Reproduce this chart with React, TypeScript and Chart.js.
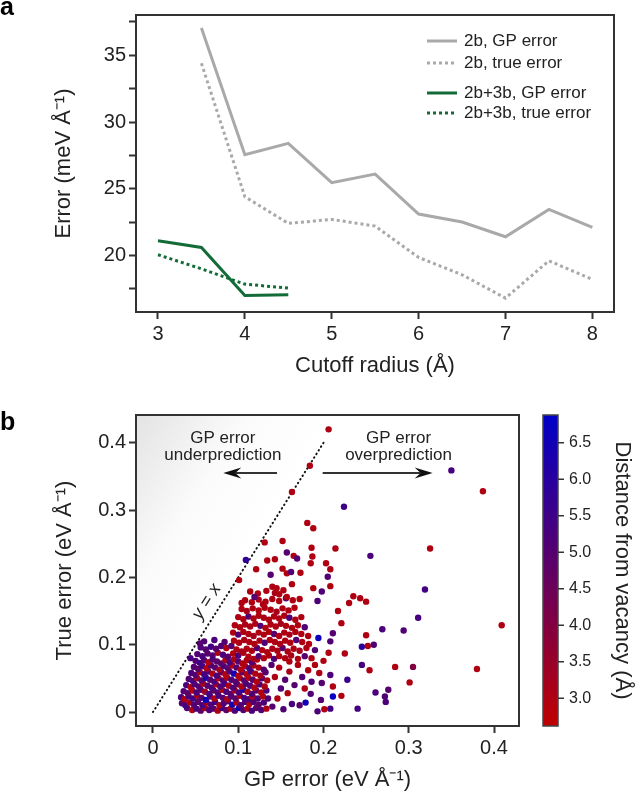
import React, { useEffect, useRef } from 'react';
import { Chart, registerables } from 'chart.js';

Chart.register(...registerables);

const FONT = "'Liberation Sans', Arial, Helvetica, sans-serif";
const TEXT = '#222222';
const AXIS = '#333333';

// ---------------- panel a ----------------
const twoBodyCutoffs = [3.5, 4, 4.5, 5, 5.5, 6, 6.5, 7, 7.5, 8];
const twoBodyGpError = [37.05, 27.55, 28.4, 25.45, 26.1, 23.1, 22.5, 21.4, 23.45, 22.1];
const twoBodyTrueError = [34.4, 24.4, 22.4, 22.7, 22.2, 19.85, 18.55, 16.8, 19.6, 18.2];
const threeBodyCutoffs = [3, 3.5, 4, 4.5];
const threeBodyGpError = [21.1, 20.6, 17.0, 17.05];
const threeBodyTrueError = [20.05, 19.0, 17.85, 17.55];
const cutoffTicks = [3, 4, 5, 6, 7, 8];
const errorTicks = [17.5, 20, 22.5, 25, 27.5, 30, 32.5, 35, 37.5];
const legendLabels = ['2b, GP error', '2b, true error', '2b+3b, GP error', '2b+3b, true error'];

// ---------------- panel b ----------------
// [GP error, true error, distance from vacancy]
type Pt = [number, number, number];
const lowErrorCluster: Pt[] = [
  [0.040,0.006,5.1],[0.046,0.003,3.0],[0.051,0.005,5.3],[0.056,0.002,4.9],[0.061,0.006,3.1],[0.066,0.003,5.2],[0.071,0.005,5.0],[0.076,0.002,3.0],[0.081,0.006,5.5],[0.086,0.003,4.8],[0.091,0.005,3.2],[0.096,0.002,5.1],[0.101,0.006,6.5],[0.106,0.003,5.0],[0.111,0.005,3.0],[0.116,0.002,5.3],[0.121,0.006,4.9],[0.127,0.003,5.1],[0.133,0.005,3.0],
  [0.034,0.013,5.0],[0.038,0.010,5.4],[0.043,0.014,3.0],[0.048,0.011,5.1],[0.053,0.015,4.8],[0.058,0.010,5.3],[0.063,0.014,3.2],[0.068,0.011,5.0],[0.073,0.015,5.5],[0.078,0.010,3.0],[0.083,0.013,5.2],[0.088,0.016,4.9],[0.093,0.011,6.3],[0.098,0.014,3.1],[0.103,0.010,5.0],[0.108,0.015,5.3],[0.113,0.012,3.0],[0.118,0.015,5.1],[0.124,0.011,4.8],[0.130,0.014,5.2],
  [0.033,0.022,5.2],[0.037,0.019,3.1],[0.042,0.023,5.0],[0.047,0.020,5.5],[0.052,0.024,3.0],[0.057,0.021,4.9],[0.062,0.018,6.6],[0.067,0.023,5.1],[0.072,0.020,3.0],[0.077,0.024,5.3],[0.082,0.021,5.0],[0.087,0.019,3.2],[0.092,0.023,5.1],[0.097,0.020,4.8],[0.102,0.024,3.0],[0.107,0.021,5.4],[0.112,0.019,5.0],[0.117,0.023,3.1],[0.123,0.020,5.2],[0.129,0.023,3.0],[0.135,0.020,5.0],
  [0.036,0.031,5.0],[0.041,0.028,4.9],[0.046,0.032,3.0],[0.051,0.029,5.2],[0.056,0.033,5.0],[0.061,0.030,3.3],[0.066,0.027,5.4],[0.071,0.032,4.8],[0.076,0.029,5.1],[0.081,0.033,3.0],[0.086,0.030,5.2],[0.091,0.027,5.0],[0.096,0.032,3.1],[0.101,0.029,5.3],[0.106,0.033,6.4],[0.111,0.030,3.0],[0.116,0.027,5.1],[0.121,0.032,4.9],[0.127,0.029,3.0],[0.133,0.032,5.2],
  [0.039,0.040,5.3],[0.044,0.037,3.0],[0.049,0.041,5.0],[0.054,0.038,5.1],[0.059,0.042,3.0],[0.064,0.039,4.9],[0.069,0.036,5.2],[0.074,0.041,3.2],[0.079,0.038,5.0],[0.084,0.042,5.4],[0.089,0.039,3.0],[0.094,0.036,5.1],[0.099,0.041,4.8],[0.104,0.038,3.0],[0.109,0.042,5.2],[0.114,0.039,5.0],[0.119,0.036,3.1],[0.125,0.041,5.3],[0.131,0.038,3.0],
  [0.042,0.049,5.0],[0.047,0.046,5.3],[0.052,0.050,3.1],[0.057,0.047,5.0],[0.062,0.051,6.2],[0.067,0.048,4.9],[0.072,0.045,5.2],[0.077,0.050,3.0],[0.082,0.047,5.1],[0.087,0.051,3.0],[0.092,0.048,5.3],[0.097,0.045,5.0],[0.102,0.050,3.2],[0.107,0.047,5.1],[0.112,0.051,3.0],[0.117,0.048,4.9],[0.122,0.045,3.0],[0.128,0.050,5.2],[0.134,0.047,3.0],
  [0.045,0.058,5.2],[0.050,0.055,5.0],[0.055,0.059,3.0],[0.060,0.056,5.4],[0.065,0.060,5.0],[0.070,0.057,3.1],[0.075,0.054,5.2],[0.080,0.059,4.8],[0.085,0.056,3.0],[0.090,0.060,5.1],[0.095,0.057,6.5],[0.100,0.054,3.0],[0.105,0.059,5.0],[0.110,0.056,3.0],[0.115,0.060,5.3],[0.120,0.057,3.0],[0.126,0.054,3.2],[0.132,0.059,5.0],
  [0.048,0.067,5.0],[0.053,0.064,4.9],[0.058,0.068,5.3],[0.063,0.065,3.0],[0.068,0.069,5.1],[0.073,0.066,5.0],[0.078,0.063,3.2],[0.083,0.068,5.2],[0.088,0.065,4.9],[0.093,0.069,3.0],[0.098,0.066,5.1],[0.103,0.063,3.0],[0.108,0.068,3.0],[0.113,0.065,5.2],[0.118,0.069,3.0],[0.124,0.066,3.1],[0.130,0.063,5.0],
  [0.050,0.076,5.1],[0.055,0.073,5.4],[0.060,0.077,5.0],[0.065,0.074,3.0],[0.070,0.078,5.2],[0.075,0.075,4.8],[0.080,0.072,5.0],[0.085,0.077,3.0],[0.090,0.074,5.3],[0.095,0.078,3.1],[0.100,0.075,5.0],[0.105,0.072,3.0],[0.110,0.077,3.0],[0.116,0.074,5.1],[0.122,0.078,3.0],
  [0.052,0.086,5.0],[0.058,0.083,5.3],[0.064,0.087,4.9],[0.070,0.084,5.1],[0.076,0.088,3.0],[0.082,0.085,5.2],[0.088,0.082,5.0],[0.094,0.087,3.0],[0.100,0.084,5.2],[0.106,0.088,3.0],
  [0.056,0.096,5.2],[0.062,0.093,5.0],[0.068,0.097,5.4],[0.074,0.094,4.9],[0.080,0.098,5.1],[0.086,0.095,3.0],[0.092,0.098,5.0],
  [0.060,0.105,5.1],[0.072,0.107,5.3],[0.084,0.104,5.0],[0.044,0.080,5.3],[0.055,0.102,5.0],
];
const redCluster: Pt[] = [
  [0.112,0.082,3.0],[0.118,0.079,3.1],[0.124,0.083,5.0],[0.130,0.080,3.0],[0.136,0.084,3.0],[0.142,0.079,5.2],[0.148,0.083,3.0],[0.155,0.080,3.0],[0.162,0.084,3.1],[0.170,0.079,3.0],[0.178,0.083,5.0],[0.186,0.080,3.0],
  [0.098,0.093,3.0],[0.104,0.090,3.2],[0.110,0.094,3.0],[0.116,0.091,3.0],[0.122,0.095,5.1],[0.128,0.092,3.0],[0.134,0.089,3.0],[0.140,0.094,3.1],[0.146,0.091,3.0],[0.152,0.095,5.0],[0.158,0.090,3.0],[0.165,0.094,3.0],[0.172,0.091,3.2],[0.180,0.095,3.0],[0.190,0.092,5.1],
  [0.095,0.106,3.0],[0.101,0.103,3.0],[0.107,0.107,3.1],[0.113,0.104,3.0],[0.119,0.101,3.0],[0.125,0.106,3.0],[0.131,0.103,5.2],[0.137,0.107,3.0],[0.143,0.104,3.0],[0.149,0.101,3.1],[0.155,0.106,3.0],[0.161,0.103,3.0],[0.168,0.107,5.0],[0.175,0.104,3.0],[0.183,0.101,3.0],
  [0.094,0.118,3.0],[0.100,0.115,5.1],[0.106,0.119,3.0],[0.112,0.116,3.0],[0.118,0.113,3.2],[0.124,0.118,3.0],[0.130,0.115,3.0],[0.136,0.119,3.0],[0.142,0.116,5.0],[0.148,0.113,3.0],[0.154,0.118,3.0],[0.160,0.115,3.1],[0.167,0.119,3.0],[0.174,0.116,3.0],[0.182,0.113,3.0],
  [0.096,0.129,3.0],[0.102,0.126,3.0],[0.108,0.130,3.1],[0.114,0.127,3.0],[0.120,0.131,3.0],[0.126,0.128,5.2],[0.132,0.125,3.0],[0.138,0.130,3.0],[0.144,0.127,3.0],[0.150,0.131,3.2],[0.156,0.128,3.0],[0.163,0.125,3.0],[0.170,0.129,3.0],[0.178,0.126,5.1],
  [0.100,0.141,3.0],[0.106,0.138,3.0],[0.112,0.142,5.0],[0.118,0.139,3.0],[0.124,0.143,3.0],[0.130,0.140,3.1],[0.136,0.137,3.0],[0.142,0.142,3.0],[0.148,0.139,3.0],[0.154,0.143,3.0],[0.160,0.140,5.2],[0.167,0.137,3.0],[0.174,0.141,3.0],
  [0.104,0.153,3.0],[0.110,0.150,3.1],[0.117,0.154,3.0],[0.124,0.151,3.0],[0.131,0.155,3.0],[0.138,0.152,3.0],[0.145,0.149,3.2],[0.152,0.154,3.0],[0.159,0.151,3.0],[0.166,0.155,3.0],
  [0.108,0.166,3.0],[0.116,0.163,3.0],[0.124,0.167,3.1],[0.132,0.164,3.0],[0.140,0.168,3.0],[0.148,0.165,3.0],[0.156,0.169,5.0],[0.164,0.166,3.0],
  [0.114,0.179,3.0],[0.123,0.176,3.0],[0.133,0.180,3.0],[0.143,0.177,3.1],[0.153,0.181,3.0],
];
const upperPoints: Pt[] = [
  [0.206,0.420,3.0],[0.184,0.366,3.0],[0.163,0.327,3.0],[0.350,0.359,5.3],[0.387,0.328,3.0],[0.224,0.305,5.5],[0.181,0.281,3.0],[0.188,0.273,3.0],
  [0.131,0.252,3.0],[0.152,0.254,3.0],[0.214,0.243,3.0],[0.325,0.243,3.0],[0.255,0.232,5.2],[0.203,0.221,3.0],[0.109,0.226,5.8],[0.134,0.225,3.0],
  [0.143,0.227,3.0],[0.157,0.237,5.0],[0.165,0.232,3.0],[0.169,0.228,5.0],[0.186,0.244,3.0],[0.187,0.231,3.0],[0.185,0.221,3.0],[0.208,0.212,3.0],
  [0.205,0.201,5.1],[0.208,0.187,3.0],[0.121,0.212,3.0],[0.152,0.213,3.0],[0.157,0.206,3.0],[0.162,0.208,5.0],[0.173,0.207,3.0],[0.138,0.204,5.0],
  [0.101,0.196,3.0],[0.140,0.186,3.0],[0.145,0.184,3.0],[0.163,0.190,3.0],[0.188,0.184,3.0],[0.198,0.179,5.1],[0.148,0.175,3.0],[0.119,0.171,5.0],
  [0.157,0.171,3.0],[0.172,0.168,3.0],[0.193,0.165,5.2],[0.104,0.162,3.0],[0.129,0.160,3.0],
];
const rightPoints: Pt[] = [
  [0.319,0.182,5.4],[0.311,0.140,5.3],[0.294,0.121,5.1],[0.409,0.129,3.0],[0.305,0.067,4.0],[0.301,0.044,3.0],[0.380,0.064,3.0],[0.235,0.172,3.0],
  [0.243,0.169,3.0],[0.250,0.164,3.0],[0.230,0.162,3.0],[0.217,0.150,3.0],[0.221,0.132,3.0],[0.211,0.117,5.0],[0.250,0.114,3.0],[0.269,0.123,5.2],
  [0.194,0.110,6.6],[0.208,0.105,5.1],[0.245,0.097,6.0],[0.252,0.098,3.0],[0.259,0.100,5.1],[0.225,0.087,3.0],[0.206,0.088,3.0],[0.200,0.076,3.0],
  [0.245,0.070,5.3],[0.284,0.067,3.0],[0.254,0.062,3.0],[0.208,0.055,5.2],[0.228,0.048,5.6],[0.198,0.043,5.0],[0.261,0.029,5.2],[0.276,0.033,5.0],
  [0.272,0.023,5.1],[0.273,0.015,5.2],[0.211,0.038,3.0],[0.211,0.023,6.7],[0.221,0.024,3.0],[0.240,0.005,5.3],[0.208,0.005,5.5],[0.201,0.004,3.0],
  [0.193,0.001,5.2],[0.179,0.014,6.5],[0.197,0.018,5.0],[0.185,0.027,5.1],[0.172,0.010,5.0],
  [0.140,0.008,5.0],[0.146,0.020,3.0],[0.150,0.035,5.2],[0.143,0.052,3.0],[0.148,0.066,3.0],[0.155,0.048,5.0],[0.158,0.028,3.0],[0.160,0.060,3.1],
  [0.163,0.012,5.3],[0.166,0.040,5.0],[0.170,0.070,3.0],[0.175,0.052,5.1],[0.178,0.035,3.0],[0.182,0.062,3.0],[0.186,0.045,5.2],[0.190,0.070,3.0],
  [0.153,0.004,5.1],[0.139,0.070,5.0],[0.160,0.075,3.0],[0.195,0.058,3.0],
];
const gpTicks = [0, 0.1, 0.2, 0.3, 0.4];
const trueTicks = [0, 0.1, 0.2, 0.3, 0.4];
const distanceTicks = [3.0, 3.5, 4.0, 4.5, 5.0, 5.5, 6.0, 6.5];
const distanceRange = [2.62, 6.88];
const identityLine = [[0, 0], [0.2, 0.4]];

const lowColor = [192, 0, 0];
const highColor = [0, 0, 200];
function distanceColor(d: number): string {
  const t = Math.max(0, Math.min(1, (d - distanceRange[0]) / (distanceRange[1] - distanceRange[0])));
  const c = lowColor.map((v, i) => Math.round(v + (highColor[i] - v) * t));
  return `rgb(${c[0]},${c[1]},${c[2]})`;
}

const tickFont = { family: FONT, size: 20 };
const titleFont = { family: FONT, size: 22 };

function axisBase(ticks: number[], min: number, max: number, fmt: (v: number) => string) {
  return {
    type: 'linear',
    min,
    max,
    afterBuildTicks: (ax: any) => { ax.ticks = ticks.map((value) => ({ value })); },
    ticks: { font: tickFont, color: TEXT, padding: 3, autoSkip: false, maxRotation: 0, callback: (v: any) => fmt(Number(v)) },
    grid: { display: true, drawOnChartArea: false, drawTicks: true, tickLength: 7, tickColor: AXIS, tickWidth: 2 },
    border: { display: false },
  };
}

const framePlugin = {
  id: 'frame',
  afterDatasetsDraw(chart: any) {
    const { ctx, chartArea: a } = chart;
    ctx.save();
    ctx.strokeStyle = AXIS;
    ctx.lineWidth = 2;
    ctx.strokeRect(a.left, a.top, a.right - a.left, a.bottom - a.top);
    ctx.restore();
  },
};

function letterPlugin(letter: string, baseline: number) {
  return {
    id: 'letter' + letter,
    afterDraw(chart: any) {
      const { ctx } = chart;
      ctx.save();
      ctx.fillStyle = '#000';
      ctx.font = `bold 25px ${FONT}`;
      ctx.textBaseline = 'alphabetic';
      ctx.fillText(letter, 0, baseline);
      ctx.restore();
    },
  };
}

const legendPlugin = {
  id: 'legendA',
  afterDraw(chart: any) {
    const { ctx, chartArea: a } = chart;
    const rows = [26, 48, 78, 98];
    chart.data.datasets.forEach((ds: any, i: number) => {
      const y = a.top + rows[i];
      ctx.save();
      ctx.strokeStyle = ds.borderColor;
      ctx.lineWidth = ds.borderWidth;
      ctx.setLineDash(ds.borderDash || []);
      ctx.beginPath();
      ctx.moveTo(a.right - 187, y);
      ctx.lineTo(a.right - 157, y);
      ctx.stroke();
      ctx.setLineDash([]);
      ctx.fillStyle = TEXT;
      ctx.font = `17px ${FONT}`;
      ctx.textBaseline = 'middle';
      ctx.textAlign = 'left';
      ctx.fillText(ds.label, a.right - 150, y);
      ctx.restore();
    });
  },
};

const shadingPlugin = {
  id: 'shading',
  beforeDatasetsDraw(chart: any) {
    const { ctx, chartArea: a, scales } = chart;
    const x = scales.x, y = scales.y;
    const [[x0v, y0v], [x1v, y1v]] = identityLine;
    const slope = (y1v - y0v) / (x1v - x0v);
    const xb = x0v + (y.min - y0v) / slope;
    const xt = x0v + (y.max - y0v) / slope;
    const p0x = x.getPixelForValue(x0v), p0y = y.getPixelForValue(y0v);
    const p1x = x.getPixelForValue(x1v), p1y = y.getPixelForValue(y1v);
    let dx = p1x - p0x, dy = p1y - p0y;
    const len = Math.hypot(dx, dy);
    dx /= len; dy /= len;
    const nx = dy, ny = -dx;
    const dist = (a.left - p0x) * nx + (a.top - p0y) * ny;
    const g = ctx.createLinearGradient(p0x, p0y, p0x + nx * dist, p0y + ny * dist);
    g.addColorStop(0, '#ffffff');
    g.addColorStop(0.45, '#fbfbfb');
    g.addColorStop(1, '#e3e3e3');
    ctx.save();
    ctx.beginPath();
    ctx.rect(a.left, a.top, a.right - a.left, a.bottom - a.top);
    ctx.clip();
    ctx.beginPath();
    ctx.moveTo(a.left, a.bottom);
    ctx.lineTo(x.getPixelForValue(xb), a.bottom);
    ctx.lineTo(x.getPixelForValue(xt), a.top);
    ctx.lineTo(a.left, a.top);
    ctx.closePath();
    ctx.fillStyle = g;
    ctx.fill();
    ctx.restore();
  },
};

const underLabel = { x: 0.082, lines: ['GP error', 'underprediction'] };
const overLabel = { x: 0.288, lines: ['GP error', 'overprediction'] };
const labelRows = [0.407, 0.381];
const arrowRow = 0.355;
const underArrow = [0.1455, 0.0825];
const overArrow = [0.199, 0.328];
const identityLabel = { x: 0.063, y: 0.164, text: 'y = x' };

function drawArrow(ctx: any, x1: number, y: number, x2: number) {
  const dir = Math.sign(x2 - x1);
  const headLen = 18, half = 5.5, notch = 12;
  ctx.beginPath();
  ctx.moveTo(x1, y);
  ctx.lineTo(x2 - dir * notch, y);
  ctx.stroke();
  ctx.beginPath();
  ctx.moveTo(x2, y);
  ctx.lineTo(x2 - dir * headLen, y - half);
  ctx.lineTo(x2 - dir * notch, y);
  ctx.lineTo(x2 - dir * headLen, y + half);
  ctx.closePath();
  ctx.fill();
}

const annotationPlugin = {
  id: 'annotations',
  afterDatasetsDraw(chart: any) {
    const { ctx, scales } = chart;
    const x = scales.x, y = scales.y;
    ctx.save();
    ctx.fillStyle = TEXT;
    ctx.font = `17px ${FONT}`;
    ctx.textAlign = 'center';
    ctx.textBaseline = 'middle';
    [underLabel, overLabel].forEach((lab) => {
      lab.lines.forEach((t, i) => ctx.fillText(t, x.getPixelForValue(lab.x), y.getPixelForValue(labelRows[i])));
    });
    ctx.strokeStyle = AXIS;
    ctx.fillStyle = '#111';
    ctx.lineWidth = 2;
    const ay = y.getPixelForValue(arrowRow);
    drawArrow(ctx, x.getPixelForValue(underArrow[0]), ay, x.getPixelForValue(underArrow[1]));
    drawArrow(ctx, x.getPixelForValue(overArrow[0]), ay, x.getPixelForValue(overArrow[1]));
    const [[ax0, ay0], [ax1, ay1]] = identityLine;
    const ang = Math.atan2(y.getPixelForValue(ay1) - y.getPixelForValue(ay0), x.getPixelForValue(ax1) - x.getPixelForValue(ax0));
    ctx.translate(x.getPixelForValue(identityLabel.x), y.getPixelForValue(identityLabel.y));
    ctx.rotate(ang);
    ctx.fillStyle = TEXT;
    ctx.font = `italic 18px ${FONT}`;
    ctx.fillText(identityLabel.text, 0, 0);
    ctx.restore();
  },
};

const colorbarPlugin = {
  id: 'colorbar',
  afterDraw(chart: any) {
    const { ctx, chartArea: a } = chart;
    const x0 = a.right + 24, w = 15, top = a.top, bottom = a.bottom, h = bottom - top;
    const [dmin, dmax] = distanceRange;
    ctx.save();
    const g = ctx.createLinearGradient(0, bottom, 0, top);
    g.addColorStop(0, distanceColor(dmin));
    g.addColorStop(1, distanceColor(dmax));
    ctx.fillStyle = g;
    ctx.fillRect(x0, top, w, h);
    ctx.strokeStyle = '#444';
    ctx.lineWidth = 1.5;
    ctx.strokeRect(x0, top, w, h);
    ctx.font = `16px ${FONT}`;
    ctx.fillStyle = TEXT;
    ctx.textAlign = 'left';
    ctx.textBaseline = 'middle';
    ctx.lineWidth = 1.5;
    ctx.strokeStyle = AXIS;
    distanceTicks.forEach((v) => {
      const yy = bottom - ((v - dmin) / (dmax - dmin)) * h;
      ctx.beginPath();
      ctx.moveTo(x0 + w, yy);
      ctx.lineTo(x0 + w + 6, yy);
      ctx.stroke();
      ctx.fillText(v.toFixed(1), x0 + w + 11, yy);
    });
    ctx.translate(622, (top + bottom) / 2);
    ctx.rotate(Math.PI / 2);
    ctx.textAlign = 'center';
    ctx.font = `22px ${FONT}`;
    ctx.fillText('Distance from vacancy (Å)', 0, 0);
    ctx.restore();
  },
};

function toXY(xs: number[], ys: number[]) {
  return xs.map((x, i) => ({ x, y: ys[i] }));
}

export default function App() {
  const refA = useRef<HTMLCanvasElement>(null);
  const refB = useRef<HTMLCanvasElement>(null);

  useEffect(() => {
    Chart.defaults.font.family = FONT;
    const gray = '#a9a9a9';
    const green = '#136b38';
    const chartA = new Chart(refA.current as HTMLCanvasElement, {
      type: 'line',
      data: {
        datasets: [
          { label: legendLabels[0], data: toXY(twoBodyCutoffs, twoBodyGpError), borderColor: gray, borderWidth: 3, pointRadius: 0, fill: false, tension: 0 },
          { label: legendLabels[1], data: toXY(twoBodyCutoffs, twoBodyTrueError), borderColor: gray, borderWidth: 3, borderDash: [3, 3], pointRadius: 0, fill: false, tension: 0 },
          { label: legendLabels[2], data: toXY(threeBodyCutoffs, threeBodyGpError), borderColor: green, borderWidth: 3, pointRadius: 0, fill: false, tension: 0 },
          { label: legendLabels[3], data: toXY(threeBodyCutoffs, threeBodyTrueError), borderColor: green, borderWidth: 3, borderDash: [3, 3], pointRadius: 0, fill: false, tension: 0 },
        ],
      } as any,
      options: {
        responsive: false,
        animation: false,
        devicePixelRatio: 1,
        events: [],
        layout: { padding: { left: 0, top: 2, right: 22, bottom: 0 } },
        plugins: { legend: { display: false }, tooltip: { enabled: false } },
        scales: {
          x: {
            ...axisBase(cutoffTicks, 2.747, 8.249, (v) => String(v)),
            afterFit: (s: any) => { s.height = 68; },
            title: { display: true, text: 'Cutoff radius (Å)', font: titleFont, color: TEXT, padding: { top: 0, bottom: 1 } },
          },
          y: {
            ...axisBase(errorTicks, 15.76, 38.02, (v) => (v % 5 === 0 ? String(v) : '')),
            afterFit: (s: any) => { s.width = 136; },
            title: { display: true, text: 'Error (meV Å⁻¹)', font: titleFont, color: TEXT, padding: { top: 51, bottom: 0 } },
          },
        },
      } as any,
      plugins: [framePlugin, legendPlugin, letterPlugin('a', 15)],
    });

    const allPoints = [...lowErrorCluster, ...redCluster, ...upperPoints, ...rightPoints];
    const chartB = new Chart(refB.current as HTMLCanvasElement, {
      type: 'scatter',
      data: {
        datasets: [
          {
            type: 'line',
            label: 'y = x',
            data: identityLine.map(([x, y]) => ({ x, y })),
            borderColor: '#111',
            borderWidth: 2,
            borderDash: [0.5, 3.8],
            borderCapStyle: 'round',
            pointRadius: 0,
            fill: false,
            order: 2,
          },
          {
            type: 'scatter',
            label: 'atoms',
            data: allPoints.map((p) => ({ x: p[0], y: p[1] })),
            pointBackgroundColor: allPoints.map((p) => distanceColor(p[2])),
            pointBorderWidth: 0,
            pointRadius: 3.2,
            order: 1,
          },
        ],
      } as any,
      options: {
        responsive: false,
        animation: false,
        devicePixelRatio: 1,
        events: [],
        layout: { padding: { left: 0, top: 35, right: 117, bottom: 0 } },
        plugins: { legend: { display: false }, tooltip: { enabled: false } },
        scales: {
          x: {
            ...axisBase(gpTicks, -0.0199, 0.4293, (v) => (v === 0 ? '0' : v.toFixed(1))),
            afterFit: (s: any) => { s.height = 67; },
            title: { display: true, text: 'GP error (eV Å⁻¹)', font: titleFont, color: TEXT, padding: { top: 0, bottom: 0 } },
          },
          y: {
            ...axisBase(trueTicks, -0.0208, 0.4413, (v) => (v === 0 ? '0' : v.toFixed(1))),
            afterFit: (s: any) => { s.width = 136; },
            title: { display: true, text: 'True error (eV Å⁻¹)', font: titleFont, color: TEXT, padding: { top: 52, bottom: 0 } },
          },
        },
      } as any,
      plugins: [shadingPlugin, framePlugin, annotationPlugin, colorbarPlugin, letterPlugin('b', 50)],
    });

    return () => {
      chartA.destroy();
      chartB.destroy();
    };
  }, []);

  return (
    <div style={{ position: 'absolute', left: 0, top: 0, width: 636, height: 793, background: '#ffffff' }}>
      <canvas ref={refA} width={636} height={380} style={{ position: 'absolute', left: 0, top: 0, display: 'block' }} />
      <canvas ref={refB} width={636} height={413} style={{ position: 'absolute', left: 0, top: 380, display: 'block' }} />
    </div>
  );
}
